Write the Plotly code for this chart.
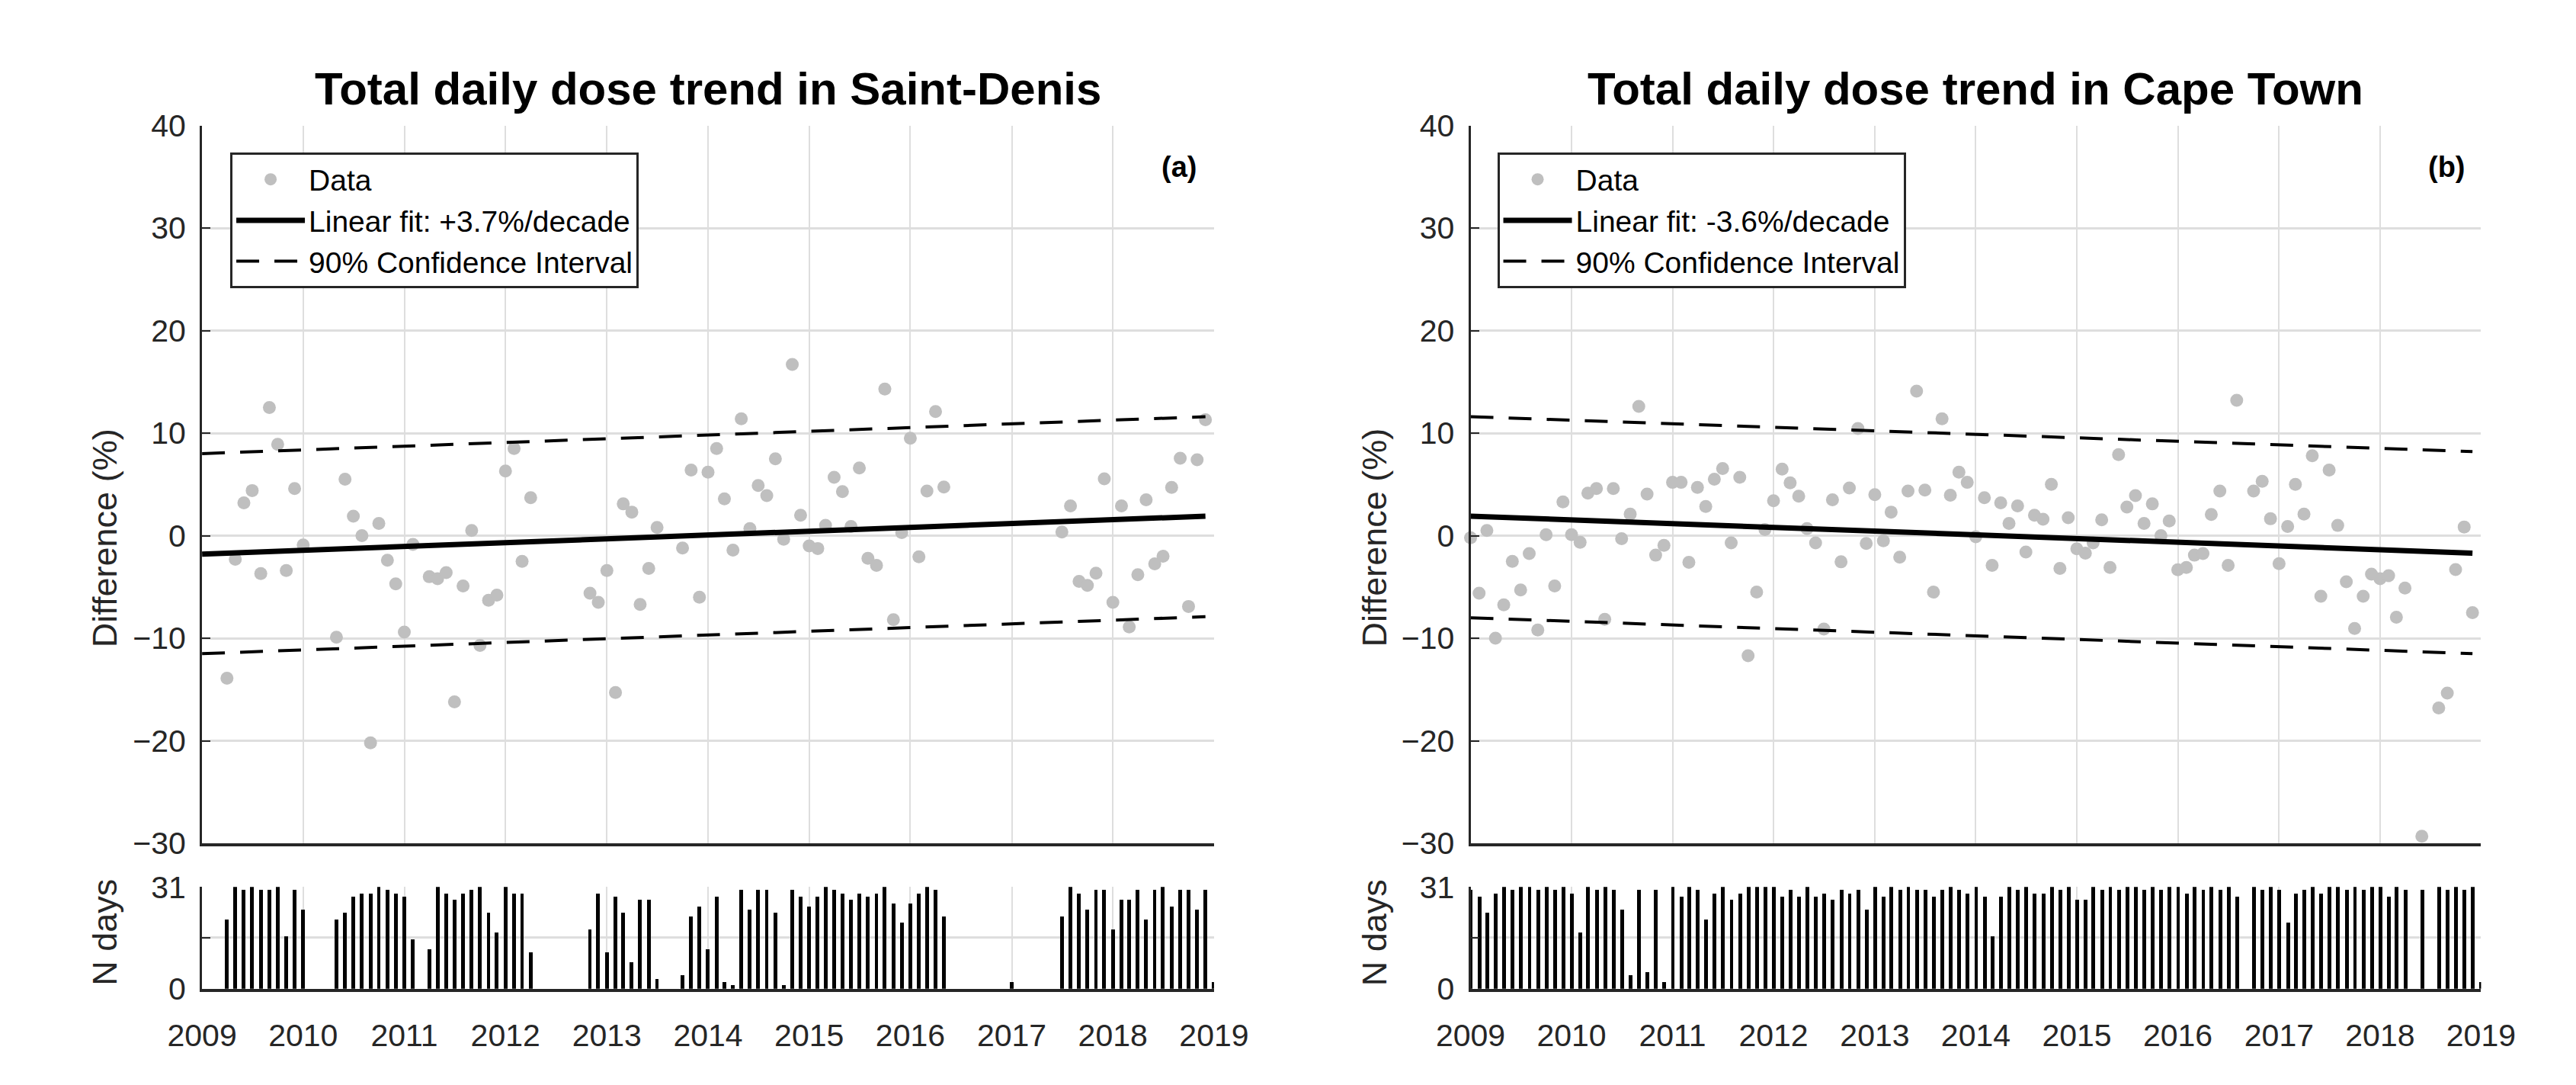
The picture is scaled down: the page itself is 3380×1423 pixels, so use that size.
import pandas as pd
import plotly.graph_objects as go

# ---------------- data ----------------
months = pd.date_range("2009-01-01", periods=121, freq="MS")  # Jan 2009 ... Jan 2019

N = None
# Saint-Denis: monthly difference (%) and number of days
sd_diff = [N, N, N, -13.9, -2.3, 3.2, 4.4, -3.7, 12.5, 8.9, -3.4, 4.6,          # 2009
           -0.9, N, N, N, -9.9, 5.5, 1.9, 0.0, -20.2, 1.2, -2.4, -4.7,          # 2010
           -9.4, -0.85, N, -4.0, -4.2, -3.6, -16.2, -4.9, 0.5, -10.7, -6.3, -5.8,  # 2011
           6.3, 8.5, -2.5, 3.7, N, N, N, N, N, N, -5.6, -6.5,                   # 2012
           -3.4, -15.3, 3.1, 2.3, -6.7, -3.2, 0.8, N, N, -1.2, 6.4, -6.0,       # 2013
           6.2, 8.5, 3.6, -1.4, 11.4, 0.7, 4.9, 3.9, 7.5, -0.35, 16.7, 2.0,     # 2014
           -1.0, -1.25, 1.0, 5.7, 4.3, 0.9, 6.6, -2.2, -2.9, 14.3, -8.2, 0.3,   # 2015
           9.5, -2.05, 4.35, 12.1, 4.75, N, N, N, N, N, N, N,                   # 2016
           N, N, N, N, N, N, 0.35, 2.9, -4.45, -4.85, -3.65, 5.55,              # 2017
           -6.5, 2.9, -8.9, -3.8, 3.5, -2.75, -2.0, 4.7, 7.55, -6.9, 7.4, 11.3, # 2018
           N]                                                                    # Jan 2019
sd_days = [0, 0, 0, 21, 31, 30, 31, 30, 30, 31, 16, 30,
           24, 0, 0, 0, 21, 23, 28, 29, 29, 31, 30, 29,
           28, 15, 0, 12, 31, 29, 27, 29, 30, 31, 23, 17,
           31, 29, 29, 11, 0, 0, 0, 0, 0, 0, 18, 29,
           11, 28, 23, 8, 27, 27, 3, 0, 0, 4, 22, 25,
           12, 28, 2, 1, 30, 24, 30, 30, 23, 1, 30, 28,
           25, 28, 31, 30, 29, 27, 29, 28, 29, 31, 26, 20,
           26, 29, 31, 30, 22, 0, 0, 0, 0, 0, 0, 0,
           2, 0, 0, 0, 0, 0, 22, 31, 29, 24, 30, 30,
           18, 27, 27, 30, 21, 30, 31, 25, 30, 30, 24, 30,
           2]

# Cape Town
ct_diff = [-0.2, -5.6, 0.5, -10.0, -6.75, -2.5, -5.3, -1.75, -9.2, 0.1, -4.9, 3.3,   # 2009
           0.1, -0.65, 4.15, 4.6, -8.15, 4.6, -0.3, 2.1, 12.6, 4.05, -1.9, -0.95,    # 2010
           5.2, 5.2, -2.6, 4.7, 2.85, 5.5, 6.55, -0.7, 5.7, -11.7, -5.5, 0.6,        # 2011
           3.4, 6.5, 5.15, 3.85, 0.7, -0.7, -9.1, 3.5, -2.55, 4.65, 10.45, -0.75,    # 2012
           4.0, -0.5, 2.3, -2.1, 4.35, 14.1, 4.45, -5.5, 11.4, 3.95, 6.2, 5.2,       # 2013
           -0.1, 3.7, -2.9, 3.2, 1.2, 2.9, -1.6, 2.0, 1.6, 5.0, -3.2, 1.75,          # 2014
           -1.27, -1.7, -0.7, 1.55, -3.1, 7.9, 2.8, 3.9, 1.2, 3.1, 0.0, 1.43,        # 2015
           -3.33, -3.1, -1.9, -1.75, 2.07, 4.35, -2.9, 13.2, N, 4.35, 5.3, 1.65,     # 2016
           -2.73, 0.9, 5.0, 2.1, 7.8, -5.9, 6.4, 1.0, -4.5, -9.05, -5.9, -3.75,      # 2017
           -4.2, -3.9, -7.95, -5.1, N, -29.3, N, -16.8, -15.35, -3.3, 0.85, -7.5,    # 2018
           N]
ct_days = [30, 28, 23, 29, 31, 30, 31, 31, 30, 31, 30, 31,
           29, 17, 31, 30, 31, 30, 24, 4, 30, 5, 30, 2,
           31, 28, 31, 30, 21, 29, 31, 27, 29, 31, 31, 31,
           31, 28, 30, 28, 31, 28, 29, 27, 30, 29, 30, 24,
           31, 28, 31, 30, 31, 30, 30, 28, 30, 31, 30, 29,
           31, 28, 16, 28, 31, 30, 31, 29, 29, 31, 30, 31,
           27, 27, 31, 30, 31, 30, 31, 31, 30, 31, 30, 31,
           31, 29, 31, 30, 31, 30, 31, 28, 0, 31, 30, 31,
           30, 20, 29, 30, 31, 29, 31, 31, 30, 31, 30, 31,
           31, 28, 31, 30, 0, 30, 0, 31, 30, 31, 30, 31,
           2]

# Linear fits and 90% confidence bounds (start / end of the fitted period)
line_x = ["2009-01-01", "2018-12-01"]
sd_fit = [-1.8, 1.9]
sd_ci_up = [8.0, 11.6]
sd_ci_lo = [-11.5, -7.9]
ct_fit = [1.9, -1.7]
ct_ci_up = [11.6, 8.2]
ct_ci_lo = [-8.0, -11.5]

sites = [
    dict(title="Total daily dose trend in Saint-Denis", tag="(a)", diff=sd_diff, days=sd_days,
         fit=sd_fit, up=sd_ci_up, lo=sd_ci_lo, fitlabel="Linear fit: +3.7%/decade"),
    dict(title="Total daily dose trend in Cape Town", tag="(b)", diff=ct_diff, days=ct_days,
         fit=ct_fit, up=ct_ci_up, lo=ct_ci_lo, fitlabel="Linear fit: -3.6%/decade"),
]

# ---------------- style ----------------
FONT = "Liberation Sans, Arial, sans-serif"
AX = "#262626"
GRID = "#dedede"
W, H = 3380, 1423
xdom = [[217 / W, 1582 / W], [1928 / W, 3291 / W]]
ydom_main = [1 - 1111 / H, 1 - 138 / H]
ydom_bar = [1 - 1308 / H, 1 - 1170 / H]
bar_w = 13.5 * 86400000

fig = go.Figure()
layout = dict(width=W, height=H, autosize=False, margin=dict(l=0, r=0, t=0, b=0),
              paper_bgcolor="white", plot_bgcolor="white", showlegend=True,
              font=dict(family=FONT, color=AX))
annotations = []

for i, s in enumerate(sites):
    xm, ym = ("x", "y") if i == 0 else ("x3", "y3")
    xb, yb = f"x{2*i+2}", f"y{2*i+2}"
    leg = "legend" if i == 0 else "legend2"

    fig.add_trace(go.Scatter(x=months, y=s["diff"], mode="markers", name="Data",
                             marker=dict(size=17, color="#bfbfbf"), xaxis=xm, yaxis=ym,
                             legend=leg, cliponaxis=False))
    fig.add_trace(go.Scatter(x=line_x, y=s["fit"], mode="lines", name=s["fitlabel"],
                             line=dict(color="black", width=7), xaxis=xm, yaxis=ym, legend=leg))
    fig.add_trace(go.Scatter(x=line_x, y=s["up"], mode="lines", name="90% Confidence Interval",
                             line=dict(color="black", width=4, dash="30px,20px"),
                             xaxis=xm, yaxis=ym, legend=leg))
    fig.add_trace(go.Scatter(x=line_x, y=s["lo"], mode="lines", showlegend=False,
                             line=dict(color="black", width=4, dash="30px,20px"),
                             xaxis=xm, yaxis=ym, legend=leg))
    fig.add_trace(go.Bar(x=months, y=s["days"], width=bar_w,
                         marker=dict(color="black", line=dict(width=0)),
                         showlegend=False, xaxis=xb, yaxis=yb))

    kx = "xaxis" if i == 0 else "xaxis3"
    ky = "yaxis" if i == 0 else "yaxis3"
    kxb, kyb = f"xaxis{2*i+2}", f"yaxis{2*i+2}"
    common_x = dict(domain=xdom[i], type="date", range=["2009-01-01", "2019-01-01"],
                    dtick="M12", tick0="2009-01-01", showgrid=True, gridcolor=GRID, gridwidth=2,
                    zeroline=False, showline=True, linecolor=AX, linewidth=4, ticks="")
    layout[kx] = dict(common_x, anchor=ym, showticklabels=False)
    layout[kxb] = dict(common_x, anchor=yb, matches=xm, showticklabels=True, tickformat="%Y",
                       tickfont=dict(size=41, color=AX, family=FONT), ticklabelstandoff=22)
    layout[ky] = dict(domain=ydom_main, anchor=xm, range=[-30, 40],
                      tickvals=[-30, -20, -10, 0, 10, 20, 30, 40],
                      showgrid=True, gridcolor=GRID, gridwidth=2.5, zeroline=False,
                      showline=True, linecolor=AX, linewidth=3, ticks="inside", ticklen=11,
                      tickwidth=2, tickcolor=AX, tickfont=dict(size=41, color=AX, family=FONT),
                      ticklabelstandoff=10)
    layout[kyb] = dict(domain=ydom_bar, anchor=xb, range=[0, 31], tickvals=[0, 15.5, 31],
                       ticktext=["0", "", "31"], showgrid=True, gridcolor=GRID, gridwidth=2.5,
                       zeroline=False, showline=True, linecolor=AX, linewidth=3, ticks="inside",
                       ticklen=11, tickwidth=2, tickcolor=AX,
                       tickfont=dict(size=41, color=AX, family=FONT), ticklabelstandoff=10)

    legx = [255 / W, 1964 / W][i]
    layout[leg] = dict(x=legx, y=1 - 175 / H, xanchor="left", yanchor="top", bgcolor="white",
                       bordercolor=AX, borderwidth=3, font=dict(size=39, color="black", family=FONT),
                       itemwidth=90, tracegroupgap=0)

    cx = (xdom[i][0] + xdom[i][1]) / 2
    annotations.append(dict(text=f"<b>{s['title']}</b>", x=cx, y=1 - 88 / H, xref="paper", yref="paper",
                            xanchor="center", yanchor="middle", showarrow=False,
                            font=dict(size=60, color="black", family=FONT)))
    annotations.append(dict(text=f"<b>{s['tag']}</b>", x=[1560 / W, 3272 / W][i], y=1 - 194 / H,
                            xref="paper", yref="paper", xanchor="right", yanchor="middle",
                            showarrow=False, font=dict(size=38, color="black", family=FONT)))
    lx = [86 / W, 1798 / W][i]
    annotations.append(dict(text="Difference (%)", x=lx, y=1 - 697 / H, xref="paper", yref="paper",
                            textangle=-90, xanchor="center", yanchor="middle", showarrow=False,
                            font=dict(size=45, color=AX, family=FONT)))
    annotations.append(dict(text="N days", x=lx, y=1 - 1232 / H, xref="paper", yref="paper",
                            textangle=-90, xanchor="center", yanchor="middle", showarrow=False,
                            font=dict(size=45, color=AX, family=FONT)))

layout["annotations"] = annotations
layout["bargap"] = 0
fig.update_layout(**layout)
fig.write_html("out.html")
